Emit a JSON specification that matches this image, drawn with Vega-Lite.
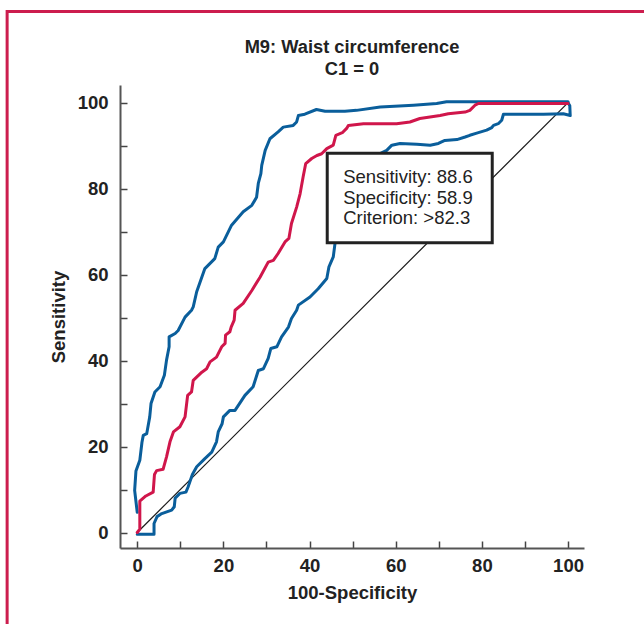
{
  "$schema": "https://vega.github.io/schema/vega-lite/v6.json",
  "width": 464,
  "height": 463,
  "autosize": {"type": "none"},
  "padding": {"left": 120, "top": 85, "right": 60, "bottom": 76},
  "background": "white",
  "config": {"view": {"stroke": null}, "font": "Liberation Sans"},
  "title": {"text": ["M9: Waist circumference", "C1 = 0"], "fontSize": 18.3, "fontWeight": "bold", "color": "#222222", "font": "Liberation Sans", "lineHeight": 22, "offset": -87, "anchor": "middle", "baseline": "bottom"},
  "datasets": {
    "roc": [
      {"s": "lower", "i": 0, "x": 0, "y": -0.4},
      {"s": "lower", "i": 1, "x": 3.9, "y": -0.4},
      {"s": "lower", "i": 2, "x": 3.9, "y": 2.1},
      {"s": "lower", "i": 3, "x": 4.6, "y": 3.7},
      {"s": "lower", "i": 4, "x": 5.7, "y": 4.4},
      {"s": "lower", "i": 5, "x": 8.0, "y": 5.2},
      {"s": "lower", "i": 6, "x": 8.6, "y": 6.0},
      {"s": "lower", "i": 7, "x": 8.8, "y": 8.0},
      {"s": "lower", "i": 8, "x": 9.9, "y": 9.1},
      {"s": "lower", "i": 9, "x": 11.3, "y": 9.4},
      {"s": "lower", "i": 10, "x": 11.8, "y": 10.6},
      {"s": "lower", "i": 11, "x": 12.8, "y": 13.5},
      {"s": "lower", "i": 12, "x": 13.8, "y": 15.3},
      {"s": "lower", "i": 13, "x": 15.7, "y": 17.2},
      {"s": "lower", "i": 14, "x": 17.3, "y": 18.7},
      {"s": "lower", "i": 15, "x": 18.4, "y": 21.1},
      {"s": "lower", "i": 16, "x": 18.8, "y": 23.4},
      {"s": "lower", "i": 17, "x": 19.7, "y": 25.3},
      {"s": "lower", "i": 18, "x": 20.0, "y": 26.9},
      {"s": "lower", "i": 19, "x": 21.5, "y": 28.4},
      {"s": "lower", "i": 20, "x": 22.7, "y": 28.4},
      {"s": "lower", "i": 21, "x": 25.0, "y": 31.9},
      {"s": "lower", "i": 22, "x": 26.9, "y": 33.9},
      {"s": "lower", "i": 23, "x": 28.1, "y": 37.7},
      {"s": "lower", "i": 24, "x": 29.3, "y": 38.1},
      {"s": "lower", "i": 25, "x": 30.4, "y": 40.5},
      {"s": "lower", "i": 26, "x": 31.0, "y": 42.8},
      {"s": "lower", "i": 27, "x": 32.4, "y": 43.2},
      {"s": "lower", "i": 28, "x": 33.5, "y": 45.5},
      {"s": "lower", "i": 29, "x": 35.1, "y": 47.8},
      {"s": "lower", "i": 30, "x": 35.8, "y": 49.8},
      {"s": "lower", "i": 31, "x": 37.0, "y": 51.7},
      {"s": "lower", "i": 32, "x": 37.4, "y": 52.9},
      {"s": "lower", "i": 33, "x": 40.1, "y": 54.8},
      {"s": "lower", "i": 34, "x": 42.0, "y": 56.7},
      {"s": "lower", "i": 35, "x": 44.0, "y": 59.1},
      {"s": "lower", "i": 36, "x": 44.5, "y": 61.8},
      {"s": "lower", "i": 37, "x": 45.5, "y": 64.1},
      {"s": "lower", "i": 38, "x": 45.9, "y": 67.2},
      {"s": "lower", "i": 39, "x": 46.5, "y": 72.0},
      {"s": "lower", "i": 40, "x": 47.2, "y": 78.0},
      {"s": "lower", "i": 41, "x": 48.3, "y": 83.0},
      {"s": "lower", "i": 42, "x": 50.3, "y": 86.0},
      {"s": "lower", "i": 43, "x": 53.5, "y": 87.5},
      {"s": "lower", "i": 44, "x": 56.5, "y": 88.2},
      {"s": "lower", "i": 45, "x": 57.9, "y": 88.9},
      {"s": "lower", "i": 46, "x": 59.1, "y": 90.1},
      {"s": "lower", "i": 47, "x": 61.0, "y": 90.5},
      {"s": "lower", "i": 48, "x": 64.9, "y": 90.3},
      {"s": "lower", "i": 49, "x": 68.0, "y": 90.1},
      {"s": "lower", "i": 50, "x": 69.9, "y": 90.5},
      {"s": "lower", "i": 51, "x": 71.4, "y": 91.2},
      {"s": "lower", "i": 52, "x": 74.2, "y": 91.4},
      {"s": "lower", "i": 53, "x": 76.1, "y": 92.0},
      {"s": "lower", "i": 54, "x": 77.2, "y": 92.4},
      {"s": "lower", "i": 55, "x": 78.8, "y": 92.9},
      {"s": "lower", "i": 56, "x": 81.1, "y": 93.6},
      {"s": "lower", "i": 57, "x": 82.3, "y": 94.2},
      {"s": "lower", "i": 58, "x": 82.7, "y": 94.7},
      {"s": "lower", "i": 59, "x": 83.8, "y": 95.1},
      {"s": "lower", "i": 60, "x": 84.6, "y": 95.9},
      {"s": "lower", "i": 61, "x": 85.0, "y": 97.3},
      {"s": "lower", "i": 62, "x": 88.1, "y": 97.3},
      {"s": "lower", "i": 63, "x": 94.3, "y": 97.3},
      {"s": "lower", "i": 64, "x": 98.9, "y": 97.4},
      {"s": "lower", "i": 65, "x": 100.5, "y": 97.0},
      {"s": "lower", "i": 66, "x": 100.4, "y": 99.3},
      {"s": "lower", "i": 67, "x": 100, "y": 100},
      {"s": "upper", "i": 0, "x": 0, "y": 4.7},
      {"s": "upper", "i": 1, "x": -0.6, "y": 9.8},
      {"s": "upper", "i": 2, "x": -0.3, "y": 14.3},
      {"s": "upper", "i": 3, "x": 0.6, "y": 16.8},
      {"s": "upper", "i": 4, "x": 1.1, "y": 21.0},
      {"s": "upper", "i": 5, "x": 1.4, "y": 22.6},
      {"s": "upper", "i": 6, "x": 2.2, "y": 23.0},
      {"s": "upper", "i": 7, "x": 2.9, "y": 26.9},
      {"s": "upper", "i": 8, "x": 3.2, "y": 30.0},
      {"s": "upper", "i": 9, "x": 4.1, "y": 32.7},
      {"s": "upper", "i": 10, "x": 5.3, "y": 33.9},
      {"s": "upper", "i": 11, "x": 6.3, "y": 36.6},
      {"s": "upper", "i": 12, "x": 6.8, "y": 40.1},
      {"s": "upper", "i": 13, "x": 7.4, "y": 43.2},
      {"s": "upper", "i": 14, "x": 7.4, "y": 45.5},
      {"s": "upper", "i": 15, "x": 8.8, "y": 46.3},
      {"s": "upper", "i": 16, "x": 9.5, "y": 47.0},
      {"s": "upper", "i": 17, "x": 11.1, "y": 50.1},
      {"s": "upper", "i": 18, "x": 12.6, "y": 51.7},
      {"s": "upper", "i": 19, "x": 13.0, "y": 52.5},
      {"s": "upper", "i": 20, "x": 13.8, "y": 56.0},
      {"s": "upper", "i": 21, "x": 15.7, "y": 61.4},
      {"s": "upper", "i": 22, "x": 18.0, "y": 63.7},
      {"s": "upper", "i": 23, "x": 18.8, "y": 66.4},
      {"s": "upper", "i": 24, "x": 20.0, "y": 67.6},
      {"s": "upper", "i": 25, "x": 21.9, "y": 71.5},
      {"s": "upper", "i": 26, "x": 24.6, "y": 74.6},
      {"s": "upper", "i": 27, "x": 26.6, "y": 76.1},
      {"s": "upper", "i": 28, "x": 27.7, "y": 78.0},
      {"s": "upper", "i": 29, "x": 28.1, "y": 81.2},
      {"s": "upper", "i": 30, "x": 28.7, "y": 83.5},
      {"s": "upper", "i": 31, "x": 28.9, "y": 85.4},
      {"s": "upper", "i": 32, "x": 29.7, "y": 88.9},
      {"s": "upper", "i": 33, "x": 30.8, "y": 91.6},
      {"s": "upper", "i": 34, "x": 32.7, "y": 93.2},
      {"s": "upper", "i": 35, "x": 33.9, "y": 94.3},
      {"s": "upper", "i": 36, "x": 36.2, "y": 94.7},
      {"s": "upper", "i": 37, "x": 37.0, "y": 95.5},
      {"s": "upper", "i": 38, "x": 37.4, "y": 97.0},
      {"s": "upper", "i": 39, "x": 38.9, "y": 97.3},
      {"s": "upper", "i": 40, "x": 41.6, "y": 98.4},
      {"s": "upper", "i": 41, "x": 43.6, "y": 98.0},
      {"s": "upper", "i": 42, "x": 48.2, "y": 98.0},
      {"s": "upper", "i": 43, "x": 50.9, "y": 98.2},
      {"s": "upper", "i": 44, "x": 56.4, "y": 99.0},
      {"s": "upper", "i": 45, "x": 64.1, "y": 99.4},
      {"s": "upper", "i": 46, "x": 69.5, "y": 99.8},
      {"s": "upper", "i": 47, "x": 71.8, "y": 100.2},
      {"s": "upper", "i": 48, "x": 78.8, "y": 100.2},
      {"s": "upper", "i": 49, "x": 100, "y": 100.2},
      {"s": "roc", "i": 0, "x": 0, "y": 0},
      {"s": "roc", "i": 1, "x": 0.6, "y": 0.8},
      {"s": "roc", "i": 2, "x": 0.6, "y": 7.3},
      {"s": "roc", "i": 3, "x": 2.0, "y": 8.5},
      {"s": "roc", "i": 4, "x": 3.7, "y": 9.4},
      {"s": "roc", "i": 5, "x": 4.0, "y": 13.5},
      {"s": "roc", "i": 6, "x": 4.5, "y": 14.4},
      {"s": "roc", "i": 7, "x": 6.0, "y": 14.7},
      {"s": "roc", "i": 8, "x": 6.8, "y": 17.6},
      {"s": "roc", "i": 9, "x": 7.6, "y": 21.1},
      {"s": "roc", "i": 10, "x": 8.4, "y": 23.4},
      {"s": "roc", "i": 11, "x": 9.9, "y": 24.6},
      {"s": "roc", "i": 12, "x": 11.1, "y": 26.9},
      {"s": "roc", "i": 13, "x": 11.7, "y": 31.9},
      {"s": "roc", "i": 14, "x": 12.6, "y": 32.7},
      {"s": "roc", "i": 15, "x": 13.0, "y": 35.4},
      {"s": "roc", "i": 16, "x": 15.0, "y": 37.3},
      {"s": "roc", "i": 17, "x": 16.1, "y": 38.1},
      {"s": "roc", "i": 18, "x": 16.9, "y": 39.7},
      {"s": "roc", "i": 19, "x": 18.4, "y": 40.8},
      {"s": "roc", "i": 20, "x": 19.6, "y": 43.2},
      {"s": "roc", "i": 21, "x": 20.4, "y": 44.0},
      {"s": "roc", "i": 22, "x": 20.5, "y": 45.9},
      {"s": "roc", "i": 23, "x": 21.5, "y": 46.7},
      {"s": "roc", "i": 24, "x": 21.8, "y": 47.8},
      {"s": "roc", "i": 25, "x": 22.5, "y": 49.4},
      {"s": "roc", "i": 26, "x": 22.7, "y": 51.7},
      {"s": "roc", "i": 27, "x": 24.6, "y": 53.3},
      {"s": "roc", "i": 28, "x": 26.6, "y": 56.3},
      {"s": "roc", "i": 29, "x": 28.5, "y": 59.4},
      {"s": "roc", "i": 30, "x": 30.4, "y": 62.9},
      {"s": "roc", "i": 31, "x": 31.6, "y": 63.3},
      {"s": "roc", "i": 32, "x": 32.7, "y": 64.9},
      {"s": "roc", "i": 33, "x": 34.3, "y": 67.6},
      {"s": "roc", "i": 34, "x": 35.2, "y": 68.4},
      {"s": "roc", "i": 35, "x": 35.8, "y": 71.9},
      {"s": "roc", "i": 36, "x": 37.0, "y": 75.7},
      {"s": "roc", "i": 37, "x": 37.8, "y": 78.8},
      {"s": "roc", "i": 38, "x": 38.5, "y": 82.7},
      {"s": "roc", "i": 39, "x": 39.1, "y": 85.8},
      {"s": "roc", "i": 40, "x": 40.5, "y": 87.0},
      {"s": "roc", "i": 41, "x": 41.7, "y": 87.7},
      {"s": "roc", "i": 42, "x": 42.8, "y": 88.1},
      {"s": "roc", "i": 43, "x": 44.0, "y": 89.3},
      {"s": "roc", "i": 44, "x": 45.5, "y": 90.1},
      {"s": "roc", "i": 45, "x": 46.1, "y": 92.4},
      {"s": "roc", "i": 46, "x": 47.6, "y": 93.0},
      {"s": "roc", "i": 47, "x": 48.6, "y": 94.0},
      {"s": "roc", "i": 48, "x": 49.0, "y": 94.7},
      {"s": "roc", "i": 49, "x": 52.5, "y": 95.1},
      {"s": "roc", "i": 50, "x": 60.2, "y": 95.1},
      {"s": "roc", "i": 51, "x": 63.3, "y": 95.5},
      {"s": "roc", "i": 52, "x": 65.6, "y": 96.3},
      {"s": "roc", "i": 53, "x": 70.3, "y": 97.0},
      {"s": "roc", "i": 54, "x": 72.2, "y": 97.4},
      {"s": "roc", "i": 55, "x": 76.1, "y": 97.8},
      {"s": "roc", "i": 56, "x": 77.2, "y": 98.2},
      {"s": "roc", "i": 57, "x": 78.4, "y": 99.4},
      {"s": "roc", "i": 58, "x": 79.2, "y": 99.8},
      {"s": "roc", "i": 59, "x": 100, "y": 99.8}
    ],
    "diag": [{"x": 0, "y": 0}, {"x": 100, "y": 100}]
  },
  "layer": [
    {
      "data": {"name": "diag"},
      "mark": {"type": "line", "color": "#1a1a1a", "strokeWidth": 1.2},
      "encoding": {
        "x": {
          "field": "x", "type": "quantitative",
          "scale": {"domain": [-4, 103.7], "nice": false, "zero": false},
          "axis": {
            "title": "100-Specificity",
            "values": [0, 5, 10, 15, 20, 25, 30, 35, 40, 45, 50, 55, 60, 65, 70, 75, 80, 85, 90, 95, 100],
            "labelExpr": "datum.value % 20 === 0 ? datum.label : ''",
            "format": "d", "grid": false,
            "tickSize": -7, "tickColor": "#444444", "tickWidth": 1.5,
            "domainColor": "#555555", "domainWidth": 2,
            "labelFont": "Liberation Sans", "labelFontSize": 18.5, "labelFontWeight": "bold", "labelColor": "#222222",
            "labelPadding": 15, "labelFlush": false, "labelOverlap": false,
            "titleFont": "Liberation Sans", "titleFontSize": 18.5, "titleFontWeight": "bold", "titleColor": "#222222",
            "titlePadding": 9
          }
        },
        "y": {
          "field": "y", "type": "quantitative",
          "scale": {"domain": [-3.6, 104.1], "nice": false, "zero": false},
          "axis": {
            "title": "Sensitivity",
            "values": [0, 5, 10, 15, 20, 25, 30, 35, 40, 45, 50, 55, 60, 65, 70, 75, 80, 85, 90, 95, 100],
            "labelExpr": "datum.value % 20 === 0 ? datum.label : ''",
            "format": "d", "grid": false,
            "tickSize": -7, "tickColor": "#444444", "tickWidth": 1.5,
            "domainColor": "#555555", "domainWidth": 2,
            "labelFont": "Liberation Sans", "labelFontSize": 18.5, "labelFontWeight": "bold", "labelColor": "#222222",
            "labelPadding": 19, "labelFlush": false, "labelOverlap": false,
            "titleFont": "Liberation Sans", "titleFontSize": 18.5, "titleFontWeight": "bold", "titleColor": "#222222",
            "titlePadding": 9
          }
        }
      }
    },
    {
      "data": {"name": "roc"},
      "mark": {"type": "line", "strokeWidth": 3, "strokeJoin": "round", "strokeCap": "round"},
      "encoding": {
        "x": {"field": "x", "type": "quantitative"},
        "y": {"field": "y", "type": "quantitative"},
        "color": {"field": "s", "type": "nominal", "scale": {"domain": ["lower", "upper", "roc"], "range": ["#0a5e9b", "#0a5e9b", "#d0164b"]}, "legend": null},
        "order": {"field": "i", "type": "quantitative"}
      }
    },
    {
      "data": {"values": [{}]},
      "mark": {"type": "rect", "fill": "white", "stroke": "#222222", "strokeWidth": 3},
      "encoding": {
        "x": {"datum": 44.1, "type": "quantitative"},
        "x2": {"datum": 82.4},
        "y": {"datum": 88.2, "type": "quantitative"},
        "y2": {"datum": 67.4}
      }
    },
    {
      "data": {"values": [{}]},
      "mark": {"type": "text", "align": "left", "baseline": "middle", "font": "Liberation Sans", "fontSize": 18.5, "lineHeight": 20.5, "color": "#222222"},
      "encoding": {
        "x": {"datum": 47.8, "type": "quantitative"},
        "y": {"datum": 82.6, "type": "quantitative"},
        "text": {"value": ["Sensitivity: 88.6", "Specificity: 58.9", "Criterion: >82.3"]}
      }
    },
    {
      "data": {"values": [{}]},
      "mark": {"type": "rect", "filled": false, "color": "#cc1d4e", "strokeWidth": 3, "clip": false},
      "encoding": {
        "x": {"datum": -30.2, "type": "quantitative"},
        "x2": {"datum": 130},
        "y": {"datum": 121.2, "type": "quantitative"},
        "y2": {"datum": -40}
      }
    }
  ]
}
